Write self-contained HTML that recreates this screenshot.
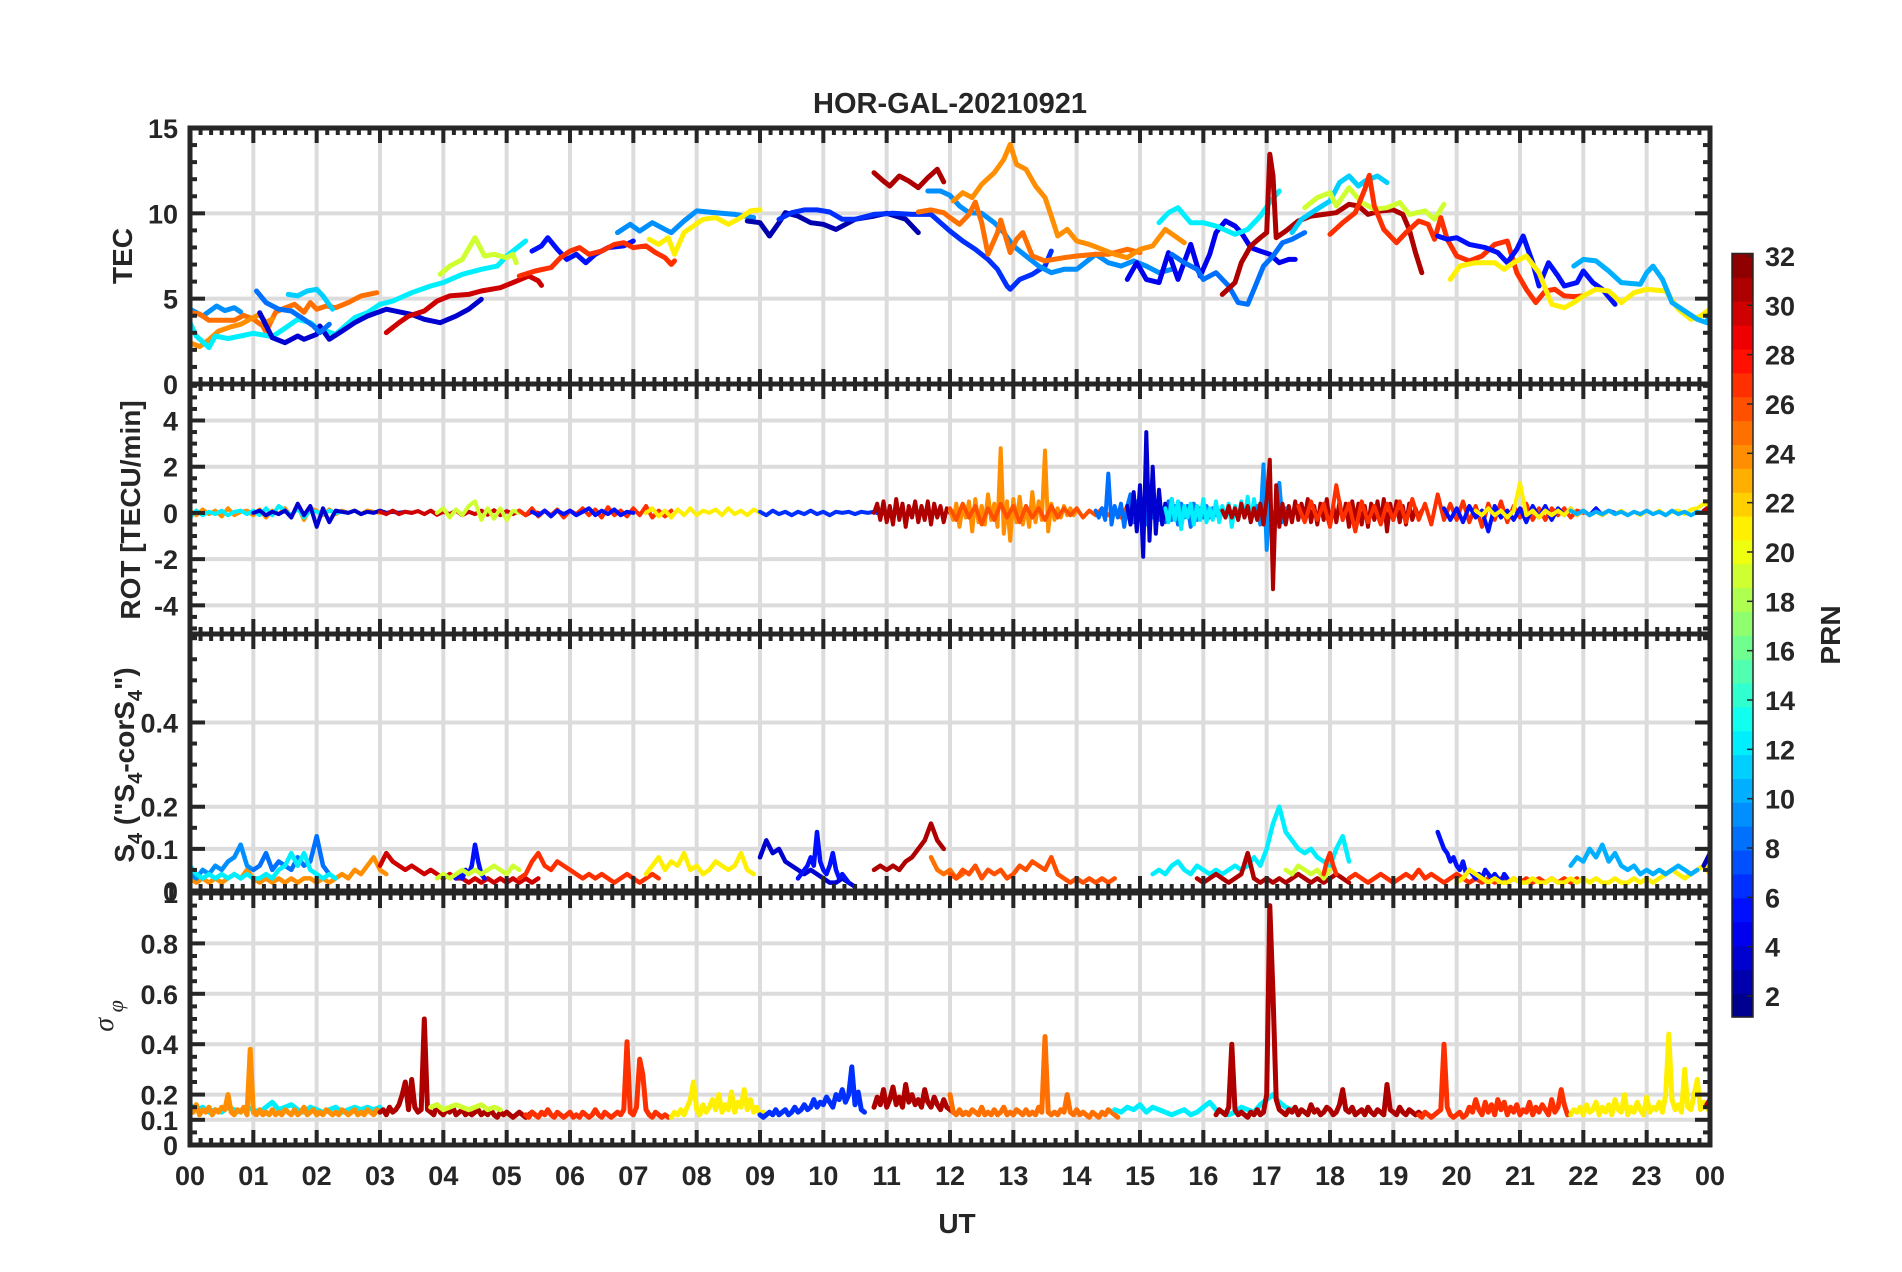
<!DOCTYPE html>
<html><head><meta charset="utf-8"><title>HOR-GAL-20210921</title>
<style>html,body{margin:0;padding:0;background:#fff;}svg{display:block;font-family:"Liberation Sans",Arial,sans-serif;}</style>
</head><body>
<svg id="chart" xmlns="http://www.w3.org/2000/svg" width="1902" height="1272" viewBox="0 0 1902 1272">
<rect x="0" y="0" width="1902" height="1272" fill="#ffffff"/>
<text x="950" y="113" text-anchor="middle" font-size="29" font-weight="bold" fill="#262626">HOR-GAL-20210921</text>
<text x="957" y="1233" text-anchor="middle" font-size="28" font-weight="bold" fill="#262626">UT</text>
<text transform="translate(132,256) rotate(-90)" text-anchor="middle" font-size="28" font-weight="bold" fill="#262626">TEC</text>
<text transform="translate(140,510) rotate(-90)" text-anchor="middle" font-size="28" font-weight="bold" fill="#262626">ROT [TECU/min]</text>
<text transform="translate(134,765) rotate(-90)" text-anchor="middle" font-size="28" font-weight="bold" fill="#262626">S<tspan font-size="20" dy="8">4</tspan><tspan dy="-8"> ("S</tspan><tspan font-size="20" dy="8">4</tspan><tspan dy="-8">-corS</tspan><tspan font-size="20" dy="8">4</tspan><tspan dy="-8">")</tspan></text>
<text transform="translate(113,1016) rotate(-90)" text-anchor="middle" font-size="28" font-style="italic" fill="#262626" font-family="'Liberation Serif',serif">σ<tspan font-size="22" dy="10"> φ</tspan></text>
<text transform="translate(1840,635) rotate(-90)" text-anchor="middle" font-size="28" font-weight="bold" fill="#262626">PRN</text>
</svg>
<script>
// ---------- axis geometry ----------
const X0 = 190, X1 = 1710;
// ---------- TEC data ----------
const tecPrn = [9,25,24,12,11,3,8,30,19,5,27,9,21,2,6,31,9,25,24,4,8,12,31,11,19,27,5,21,10];
const tecSeries = [
 [[0,4.38],[0.2,3.98],[0.42,4.57],[0.55,4.3],[0.7,4.47],[0.8,4.22]],
 [[0,4.18],[0.15,4.1],[0.3,3.73],[0.7,3.73],[0.85,4.02],[1.0,3.8],[1.15,3.4],[1.2,3.05],[1.35,4.2],[1.45,4.38],[1.65,4.67],[1.8,4.2],[1.9,4.77],[2.0,4.38],[2.15,4.57],[2.3,4.47],[2.5,4.77],[2.7,5.16],[2.95,5.35]],
 [[0,2.42],[0.15,2.19],[0.3,2.6],[0.45,3.1],[0.65,3.36],[0.8,3.5],[1.0,3.89],[1.1,4.08],[1.2,3.6],[1.3,3.8]],
 [[0,3.59],[0.1,2.81],[0.3,2.13],[0.4,2.81],[0.6,2.66],[0.8,2.81],[1.0,2.97],[1.3,2.77],[1.55,3.4],[1.7,3.79],[1.9,3.59],[2.0,3.3],[2.3,2.91],[2.6,3.89],[2.8,4.18],[3.0,4.67],[3.2,4.86],[3.5,5.35],[3.8,5.74],[4.0,5.94],[4.3,6.43],[4.6,6.72],[4.85,6.91],[5.0,7.5],[5.3,8.38]],
 [[1.55,5.25],[1.7,5.16],[1.85,5.45],[2.0,5.55],[2.1,5.16],[2.25,4.38]],
 [[1.1,4.18],[1.3,2.71],[1.5,2.42],[1.7,2.81],[1.8,2.62],[2.0,2.91],[2.05,3.4],[2.2,2.62],[2.4,3.1],[2.6,3.59],[2.8,3.98],[2.95,4.18],[3.1,4.38],[3.5,4.08],[3.7,3.79],[3.95,3.59],[4.2,3.98],[4.4,4.38],[4.6,4.96]],
 [[1.05,5.45],[1.2,4.77],[1.4,4.38],[1.6,4.28],[1.8,3.79],[1.95,3.4],[2.05,3.01],[2.2,3.5]],
 [[3.1,3.01],[3.3,3.59],[3.45,3.98],[3.7,4.28],[3.9,4.86],[4.1,5.16],[4.4,5.25],[4.6,5.45],[4.9,5.64],[5.1,5.94],[5.35,6.33],[5.5,6.04],[5.55,5.78]],
 [[3.95,6.43],[4.1,6.91],[4.3,7.3],[4.5,8.57],[4.65,7.5],[4.8,7.6],[5.0,7.4],[5.1,7.6],[5.15,7.11]],
 [[5.4,7.79],[5.55,8.09],[5.65,8.57],[5.8,7.89],[5.95,7.3],[6.1,7.6],[6.25,7.11],[6.4,7.6],[6.6,7.99],[6.85,8.09],[7.0,8.38]],
 [[5.2,6.33],[5.45,6.62],[5.7,6.82],[5.85,7.4],[6.0,7.79],[6.15,7.99],[6.3,7.6],[6.5,7.79],[6.7,8.18],[6.85,8.28],[7.0,7.99],[7.2,8.09],[7.35,7.7],[7.5,7.4],[7.6,7.01],[7.65,7.21]],
 [[6.75,8.87],[6.95,9.36],[7.1,8.96],[7.3,9.45],[7.5,9.06],[7.6,8.87],[7.8,9.55],[8.0,10.14],[8.3,10.04],[8.6,9.94],[8.9,9.75]],
 [[7.25,8.48],[7.4,8.18],[7.55,8.57],[7.65,7.6],[7.8,8.87],[7.95,9.26],[8.1,9.65],[8.3,9.75],[8.5,9.36],[8.7,9.75],[8.85,10.14],[9.0,10.2]],
 [[8.8,9.55],[9.0,9.45],[9.15,8.67],[9.3,9.45],[9.4,10.04],[9.6,9.84],[9.8,9.45],[10.0,9.36],[10.2,9.06],[10.5,9.65],[10.8,9.84],[11.0,10.0],[11.3,9.65],[11.5,8.87]],
 [[9.3,9.65],[9.5,10.04],[9.7,10.2],[9.9,10.2],[10.1,10.08],[10.3,9.65],[10.5,9.65],[10.8,9.94],[11.1,10.0],[11.4,9.94],[11.7,9.94],[11.85,9.45],[12.0,8.96],[12.2,8.38],[12.4,7.89],[12.6,7.3],[12.75,6.72],[12.9,5.74],[12.95,5.55],[13.1,6.13],[13.3,6.43],[13.5,6.91],[13.6,7.79]],
 [[10.8,12.38],[10.95,11.89],[11.05,11.6],[11.2,12.19],[11.35,11.89],[11.5,11.5],[11.65,12.09],[11.8,12.58],[11.9,11.84]],
 [[11.65,11.31],[11.85,11.31],[12.0,11.05],[12.15,10.43],[12.3,10.04],[12.5,10.0],[12.7,9.45],[12.85,8.87],[13.0,8.09],[13.2,7.5],[13.4,6.91],[13.6,6.52],[13.8,6.72],[14.0,6.72],[14.2,7.3],[14.3,7.6],[14.5,7.11],[14.7,6.91],[14.9,7.21],[15.1,6.91],[15.3,6.52],[15.5,6.72]],
 [[11.5,10.08],[11.7,10.2],[11.9,10.04],[12.0,9.75],[12.15,9.36],[12.3,9.94],[12.4,10.66],[12.5,9.45],[12.6,7.6],[12.75,8.87],[12.8,9.61],[12.95,7.7],[13.05,8.48],[13.15,8.87],[13.3,7.5],[13.5,7.21],[13.8,7.4],[14.0,7.5],[14.3,7.6],[14.5,7.6],[14.8,7.89],[15.0,7.7]],
 [[12.05,10.72],[12.2,11.21],[12.35,10.92],[12.5,11.7],[12.7,12.38],[12.85,13.16],[12.95,14.04],[13.05,12.87],[13.2,12.58],[13.35,11.6],[13.5,10.92],[13.6,9.84],[13.7,8.67],[13.85,9.06],[14.0,8.38],[14.2,8.18],[14.4,7.89],[14.6,7.6],[14.8,7.4],[15.0,7.89],[15.2,8.09],[15.4,9.06],[15.55,8.67],[15.7,8.28]],
 [[14.8,6.13],[14.95,7.11],[15.1,6.13],[15.3,5.94],[15.45,7.7],[15.6,6.13],[15.8,8.18],[15.95,6.33],[16.1,7.6],[16.2,8.87],[16.35,9.55],[16.5,9.26],[16.6,8.87],[16.75,7.99],[16.9,7.79],[17.05,7.6],[17.2,7.11],[17.35,7.3],[17.45,7.3]],
 [[15.5,7.6],[15.7,7.11],[15.9,6.72],[16.0,6.13],[16.2,6.52],[16.4,5.74],[16.55,4.77],[16.7,4.67],[16.8,5.55],[16.95,6.91],[17.1,7.5],[17.25,8.28],[17.4,8.48],[17.6,8.87]],
 [[15.3,9.45],[15.45,10.04],[15.6,10.33],[15.8,9.45],[16.0,9.45],[16.2,9.26],[16.5,8.77],[16.7,9.06],[16.9,9.84],[17.05,10.63],[17.2,11.31]],
 [[16.3,5.25],[16.5,5.94],[16.6,7.11],[16.75,8.09],[16.9,8.57],[17.0,8.87],[17.05,13.46],[17.1,12.19],[17.15,8.57],[17.3,8.96],[17.5,9.55],[17.7,9.84],[17.9,9.94],[18.1,10.04],[18.3,10.53],[18.45,10.43],[18.6,9.94],[18.8,10.14],[19.0,10.2],[19.15,9.94],[19.25,9.06],[19.35,7.7],[19.45,6.52]],
 [[17.4,8.87],[17.55,9.65],[17.75,10.14],[18.0,10.72],[18.15,11.8],[18.3,12.19],[18.45,11.6],[18.55,11.89],[18.75,12.19],[18.9,11.8]],
 [[17.6,10.33],[17.8,10.92],[18.0,11.21],[18.1,10.43],[18.3,11.5],[18.5,10.63],[18.7,10.24],[18.9,10.33],[19.1,10.63],[19.25,9.94],[19.5,10.14],[19.65,9.65],[19.8,10.53]],
 [[18.0,8.77],[18.2,9.45],[18.4,10.04],[18.55,11.41],[18.62,12.23],[18.7,10.43],[18.85,9.06],[19.05,8.28],[19.2,8.87],[19.4,9.55],[19.55,9.36],[19.65,8.48],[19.75,9.75],[19.85,8.48],[20.0,7.5],[20.2,7.21],[20.4,7.5],[20.6,8.18],[20.8,8.38],[20.95,6.52],[21.1,5.55],[21.25,4.77],[21.4,5.45],[21.55,5.55],[21.7,5.16],[21.85,5.12],[22.0,5.16]],
 [[19.7,8.67],[19.85,8.48],[20.0,8.57],[20.2,8.18],[20.45,7.99],[20.65,7.7],[20.8,7.11],[20.95,7.89],[21.05,8.67],[21.2,7.11],[21.3,5.74],[21.45,7.11],[21.6,6.33],[21.7,5.74],[21.9,5.94],[22.0,6.62],[22.15,5.94],[22.3,5.55],[22.5,4.67]],
 [[19.9,6.13],[20.05,6.91],[20.3,7.11],[20.6,7.11],[20.75,6.72],[20.9,7.11],[21.1,7.5],[21.3,6.52],[21.5,4.67],[21.7,4.47],[21.85,4.77],[22.0,5.16],[22.2,5.55],[22.4,5.45],[22.6,4.77],[22.8,5.35],[23.0,5.55],[23.3,5.45],[23.5,4.38],[23.7,3.79],[23.85,3.98],[24.0,4.38],[24.05,5.16]],
 [[21.85,6.91],[22.0,7.3],[22.2,7.21],[22.4,6.62],[22.6,5.94],[22.9,5.84],[23.0,6.52],[23.1,6.91],[23.25,6.13],[23.4,4.77],[23.6,4.28],[23.8,3.79],[23.95,3.59],[24.0,4.18]]
];
// ---------- ROT data (start hour, step hours, values TECU/min) ----------
const rotPrn   = [24,12,3,30,19,27,5,21,6,31,24,26,8,3,12,9,31,27,5,21,10,31];
const rotStart = [0,0,1.0,3.0,3.9,5.2,5.4,7.2,9.0,10.8,12.0,12.0,14.3,14.8,15.4,16.85,16.3,17.5,19.8,20.3,21.8,23.9];
const rotStep  = [0.1,0.1,0.1,0.1,0.1,0.1,0.1,0.1,0.1,0.05,0.05,0.1,0.05,0.05,0.05,0.05,0.05,0.1,0.1,0.1,0.1,0.05];
const rotValues = [
 [0.1,-0.1,0.15,-0.05,0.1,-0.15,0.2,-0.1,0.05,0.1,-0.1,0.15,-0.2,0.1,-0.05,0.2,-0.15,0.3,-0.3,0.2,0.1,-0.1,0.15,-0.05,0.1,0,0.1,-0.05,0.1,0.05,0],
 [-0.2,0.1,-0.1,0.05,-0.05,0.1,-0.1,0.05,0.1,-0.05,0.1,-0.1,0.2,-0.1,0.3,0.1,-0.1,0.2,-0.2,0.1,0.05,-0.05,0.1,0,0.05,0],
 [0,0.1,-0.1,0.05,-0.05,0.1,-0.2,0.4,-0.1,0.3,-0.6,0.2,-0.4,0.1,0.05,0,0.1,-0.05,0.05,0,0.1,0,0.05,0,0.05,0],
 [0.05,-0.05,0.1,-0.05,0.05,0,0.08,-0.05,0.1,-0.08,0.05,-0.05,0.1,-0.1,0.05,-0.05,0.1,-0.08,0.12,-0.1,0.08,-0.05,0.1,-0.1,0.05,0],
 [0,0.2,-0.2,0.15,-0.1,0.3,0.5,-0.3,0.2,-0.25,0.2,-0.3,0.1,0],
 [0.1,-0.1,0.2,-0.15,0.1,-0.1,0.15,-0.2,0.1,-0.05,0.2,-0.1,0.15,-0.2,0.25,-0.1,0.1,-0.15,0.2,-0.1,0.3,-0.2,0.1,-0.15,0.1],
 [0.05,-0.1,0.1,-0.15,0.1,-0.05,0.1,-0.1,0.05,0.2,-0.1,0.1,-0.05,0.15,-0.1,0.05,0],
 [0,0.2,-0.15,0.1,-0.2,0.15,-0.1,0.2,-0.1,0.1,0,0.15,-0.1,0.2,-0.05,0.1,-0.1,0.15,0],
 [0.05,-0.1,0.1,-0.05,0.05,-0.1,0.05,-0.05,0.1,-0.05,0.05,-0.1,0.05,0,0.05,-0.05,0.05,0,0.05,-0.05,0],
 [0,0.4,-0.3,0.5,-0.4,0.3,-0.5,0.6,-0.3,0.4,-0.6,0.3,-0.2,0.5,-0.4,0.3,-0.3,0.5,-0.5,0.4,-0.2,0.3,-0.4,0.2,0],
 [0.1,-0.3,0.4,-0.6,0.3,-0.2,0.5,-0.8,0.6,-0.4,0.3,-0.5,0.8,-0.3,0.4,-0.6,2.8,-0.9,0.5,-1.2,0.6,-0.4,0.7,-0.5,0.3,-0.6,0.9,-0.4,0.5,-0.3,2.7,-0.8,0.4,-0.3,0.2,-0.2,0.3,-0.1,0.2,-0.1,0.1],
 [0.2,-0.3,0.4,-0.2,0.3,-0.5,0.2,-0.3,0.4,-0.2,0.3,-0.4,0.3,-0.2,0.2,-0.3,0.3,-0.2,0.2,-0.1,0.2,-0.2,0.1,-0.1,0.2,-0.1,0.1,-0.2,0.3,-0.2,0.1],
 [0.1,-0.2,0.2,-0.3,1.7,-0.5,0.3,-0.2,0.4,-0.6,0.3,0.8,-0.4,0.5,-0.3,0.6,-0.5,0.3,-0.2,0.4,-0.3,0.2,-0.4,0.5,-0.3,0.3,-0.5,0.4,-0.2,0.3,-0.6,0.4,-0.3,0.2,-0.2,0.3,-0.2,0.2,-0.1,0.1],
 [0.3,-0.5,0.9,-0.8,1.2,-1.9,3.5,-1.2,2.0,-0.9,1.0,-0.5,0.4,-0.3,0.6,-0.2,0.1],
 [0.2,-0.4,0.6,-0.3,0.5,-0.7,0.3,-0.2,0.4,-0.5,0.3,-0.3,0.6,-0.4,0.2,-0.3,0.5,-0.4,0.3,-0.2,0.4,-0.6,0.3,-0.3,0.5,-0.2,0.7,-0.4,0.6,-0.3,0.4,-0.2,0.3],
 [0.3,-0.5,2.1,-1.6,0.8,-0.9,0.5,1.3,-0.4,0.2],
 [0.1,-0.2,0.3,-0.2,0.2,-0.3,0.4,-0.2,0.3,-0.4,0.2,-0.3,0.4,-0.5,0.6,2.3,-3.3,1.2,-0.6,0.4,-0.5,0.3,-0.4,0.5,-0.3,0.4,-0.2,0.6,-0.4,0.3,-0.5,0.4,-0.3,0.6,-0.5,0.3,-0.4,0.5,-0.3,0.4,-0.6,0.5,-0.3,0.4,-0.5,0.3,-0.6,0.4,-0.3,0.5,-0.4,0.6,-0.8,0.4,-0.3,0.5,-0.4,0.3,-0.5,0.4,-0.3,0.2,-0.2,0.1],
 [0.3,-0.4,0.5,-0.3,0.4,-0.6,1.2,-0.3,0.4,-0.8,0.5,-0.4,0.3,-0.5,0.4,-0.3,0.5,-0.4,0.6,-0.3,0.4,-0.5,0.8,-0.3,0.4,-0.3,0.5,-0.4,0.3,-0.6,0.4,-0.3,0.5,-0.4,0.3,-0.2,0.4,-0.3,0.2,-0.3,0.2,-0.1,0.2,-0.2,0.1,0],
 [0.2,-0.3,0.2,-0.4,0.3,-0.2,0.1,-0.8,0.3,-0.2,0.1,-0.3,0.2,-0.4,0.3,-0.2,0.3,-0.3,0.2,-0.1,0.2,-0.1,0.1,-0.1,0.2,-0.1,0.1,0],
 [0.1,-0.1,0.2,-0.1,0.1,-0.2,0.1,1.3,-0.1,0.1,-0.2,0.1,-0.1,0.1,-0.1,0.2,-0.1,0.1,-0.1,0.05,-0.1,0.1,-0.05,0.1,-0.1,0.05,-0.1,0.1,-0.05,0.1,-0.1,0.05,0.1,-0.05,0.15,0.2,0.4,0.3],
 [0.1,-0.05,0.1,-0.1,0.05,-0.05,0.1,-0.05,0.05,-0.1,0.05,-0.05,0.1,-0.05,0.05,-0.1,0.1,-0.05,0.05,-0.1,0.05,0],
 [0.1,0.2,0.1]
];
// ---------- S4 data ----------
const s4Prn   = [24,9,8,12,30,5,19,27,21,3,5,31,25,26,12,31,19,27,27,5,21,10,2];
const s4Start = [0,0,1.0,0,3.0,4.2,3.9,5.2,7.2,9.0,9.6,10.8,11.7,12.0,15.2,15.9,17.3,17.9,18.3,19.7,20.0,21.8,23.9];
const s4Step  = [0.1,0.1,0.1,0.1,0.1,0.05,0.1,0.1,0.1,0.1,0.05,0.1,0.1,0.1,0.1,0.1,0.1,0.05,0.1,0.05,0.1,0.1,0.1];
const s4Values = [
 [0.03,0.02,0.03,0.02,0.03,0.02,0.03,0.04,0.03,0.05,0.03,0.02,0.03,0.02,0.03,0.02,0.03,0.02,0.03,0.03,0.02,0.03,0.02,0.03,0.04,0.03,0.05,0.04,0.06,0.08,0.05,0.04],
 [0.04,0.03,0.05,0.04,0.06,0.05,0.07,0.08,0.11,0.06,0.05],
 [0.05,0.06,0.09,0.05,0.07,0.06,0.05,0.08,0.06,0.07,0.13,0.06,0.04],
 [0.06,0.04,0.03,0.04,0.03,0.04,0.03,0.04,0.03,0.04,0.03,0.03,0.04,0.03,0.05,0.06,0.09,0.06,0.09,0.05,0.04,0.03,0.04,0.03],
 [0.06,0.09,0.07,0.06,0.05,0.06,0.05,0.04,0.05,0.04,0.03,0.04,0.03,0.03,0.02,0.03,0.02,0.03,0.02,0.03,0.02,0.03,0.02,0.03,0.02,0.03],
 [0.03,0.04,0.03,0.05,0.04,0.06,0.11,0.07,0.04,0.03],
 [0.03,0.04,0.03,0.04,0.05,0.04,0.05,0.04,0.05,0.06,0.05,0.04,0.06,0.05],
 [0.03,0.04,0.07,0.09,0.06,0.05,0.07,0.06,0.05,0.04,0.03,0.04,0.03,0.04,0.03,0.02,0.03,0.04,0.03,0.02,0.03,0.04,0.03],
 [0.04,0.06,0.08,0.05,0.07,0.06,0.09,0.05,0.06,0.04,0.05,0.07,0.06,0.05,0.06,0.09,0.05,0.04],
 [0.08,0.12,0.09,0.1,0.07,0.06,0.05,0.04,0.05,0.04,0.03,0.02,0.02,0.03,0.02,0.01],
 [0.03,0.04,0.05,0.06,0.08,0.06,0.14,0.07,0.05,0.04,0.06,0.09,0.05,0.03,0.04,0.03,0.02],
 [0.05,0.06,0.05,0.06,0.05,0.07,0.08,0.1,0.12,0.16,0.12,0.1],
 [0.08,0.05,0.04,0.05,0.03,0.04],
 [0.04,0.03,0.05,0.04,0.06,0.03,0.05,0.04,0.05,0.03,0.04,0.06,0.05,0.07,0.06,0.05,0.08,0.04,0.03,0.02,0.03,0.02,0.03,0.02,0.03,0.02,0.03],
 [0.04,0.05,0.04,0.06,0.07,0.05,0.04,0.06,0.05,0.04,0.05,0.04,0.05,0.06,0.05,0.06,0.08,0.06,0.1,0.16,0.2,0.14,0.12,0.1,0.09,0.1,0.08,0.07,0.06,0.1,0.13,0.07],
 [0.03,0.02,0.03,0.04,0.03,0.02,0.03,0.04,0.09,0.03,0.02,0.03,0.02,0.03,0.02,0.03,0.04,0.03,0.02,0.03,0.02,0.03,0.04,0.03,0.02],
 [0.05,0.04,0.06,0.05,0.04,0.05,0.03,0.05],
 [0.04,0.07,0.09,0.06,0.04],
 [0.03,0.04,0.03,0.02,0.03,0.04,0.03,0.02,0.03,0.04,0.03,0.05,0.03,0.04,0.03,0.02,0.03,0.04,0.03,0.02,0.03,0.02,0.03,0.02,0.03,0.02,0.03,0.02,0.03,0.02,0.03,0.02,0.03,0.02,0.03,0.02,0.03],
 [0.14,0.12,0.1,0.09,0.07,0.08,0.06,0.05,0.07,0.04,0.05,0.04,0.03,0.04,0.03,0.05,0.04,0.03,0.04,0.03,0.02,0.04,0.03],
 [0.02,0.03,0.05,0.04,0.03,0.02,0.03,0.02,0.02,0.03,0.02,0.02,0.03,0.02,0.02,0.03,0.02,0.02,0.03,0.02,0.03,0.02,0.03,0.02,0.02,0.03,0.02,0.02,0.03,0.02,0.03,0.02,0.03,0.04,0.05,0.04,0.03,0.04,0.05,0.06,0.04],
 [0.06,0.08,0.07,0.1,0.08,0.11,0.07,0.09,0.06,0.05,0.06,0.04,0.05,0.04,0.05,0.04,0.05,0.06,0.05,0.04,0.05],
 [0.06,0.09]
];
// ---------- sigma-phi data ----------
const sigPrn   = [12,24,31,19,27,21,6,31,25,12,31,27,21,31];
const sigStart = [0,0,3.0,3.8,5.3,7.6,9.0,10.8,12.0,14.6,16.2,19.4,21.8,23.95];
const sigStep  = [0.1,0.05,0.05,0.1,0.05,0.05,0.05,0.05,0.05,0.1,0.05,0.05,0.05,0.05];
const sigValues = [
 [0.16,0.14,0.15,0.13,0.14,0.13,0.15,0.14,0.13,0.15,0.14,0.13,0.15,0.17,0.14,0.15,0.16,0.14,0.13,0.15,0.14,0.13,0.14,0.15,0.13,0.14,0.15,0.14,0.15,0.14,0.15],
 [0.15,0.13,0.16,0.12,0.14,0.13,0.15,0.12,0.14,0.13,0.15,0.14,0.2,0.13,0.12,0.14,0.13,0.15,0.12,0.38,0.13,0.12,0.14,0.12,0.13,0.12,0.14,0.12,0.13,0.12,0.14,0.13,0.12,0.14,0.12,0.13,0.15,0.12,0.13,0.14,0.12,0.13,0.12,0.14,0.13,0.12,0.13,0.12,0.14,0.13,0.12,0.13,0.14,0.12,0.13,0.12,0.14,0.13,0.12,0.14],
 [0.13,0.14,0.12,0.15,0.13,0.14,0.16,0.2,0.25,0.14,0.26,0.15,0.13,0.14,0.5,0.14,0.13,0.12,0.16,0.13,0.12,0.14,0.13,0.15,0.12,0.13,0.14,0.12,0.13,0.12,0.13,0.14,0.12,0.13,0.12,0.14,0.12,0.11,0.13,0.12,0.13,0.12,0.11,0.12,0.13,0.12,0.11,0.12,0.13,0.12],
 [0.15,0.16,0.14,0.15,0.16,0.15,0.14,0.15,0.16,0.14,0.15,0.14],
 [0.12,0.11,0.13,0.12,0.11,0.13,0.12,0.14,0.12,0.11,0.13,0.12,0.11,0.12,0.13,0.11,0.12,0.11,0.13,0.12,0.11,0.12,0.14,0.12,0.11,0.13,0.12,0.11,0.12,0.13,0.12,0.14,0.41,0.13,0.12,0.15,0.34,0.28,0.14,0.12,0.11,0.13,0.12,0.11,0.12,0.11],
 [0.11,0.13,0.12,0.14,0.12,0.15,0.18,0.25,0.14,0.12,0.16,0.13,0.15,0.18,0.14,0.2,0.13,0.16,0.14,0.21,0.13,0.17,0.15,0.22,0.14,0.18,0.13,0.15,0.12,0.13],
 [0.12,0.11,0.12,0.13,0.12,0.14,0.12,0.13,0.14,0.12,0.13,0.15,0.13,0.14,0.16,0.14,0.15,0.18,0.15,0.17,0.16,0.19,0.17,0.15,0.2,0.18,0.22,0.17,0.2,0.31,0.16,0.21,0.14,0.13],
 [0.15,0.19,0.16,0.22,0.15,0.18,0.23,0.16,0.19,0.15,0.24,0.17,0.2,0.16,0.18,0.15,0.22,0.17,0.15,0.19,0.16,0.14,0.18,0.15,0.14,0.13],
 [0.2,0.13,0.12,0.14,0.12,0.13,0.12,0.14,0.13,0.12,0.15,0.12,0.13,0.12,0.14,0.12,0.13,0.15,0.12,0.13,0.12,0.14,0.13,0.12,0.14,0.12,0.13,0.12,0.15,0.13,0.43,0.13,0.12,0.13,0.12,0.14,0.13,0.2,0.13,0.12,0.14,0.12,0.13,0.12,0.11,0.13,0.12,0.11,0.13,0.12,0.14,0.13,0.12,0.11],
 [0.14,0.13,0.15,0.14,0.16,0.13,0.15,0.14,0.13,0.12,0.13,0.14,0.12,0.13,0.15,0.17,0.14,0.13,0.12,0.13,0.15,0.14,0.13,0.16,0.18,0.2,0.17,0.15,0.14],
 [0.12,0.14,0.13,0.12,0.15,0.4,0.14,0.12,0.13,0.12,0.11,0.13,0.12,0.14,0.12,0.13,0.2,0.95,0.6,0.18,0.14,0.13,0.12,0.14,0.13,0.15,0.12,0.14,0.13,0.12,0.16,0.13,0.14,0.12,0.13,0.15,0.14,0.12,0.13,0.16,0.22,0.14,0.13,0.15,0.12,0.13,0.14,0.12,0.15,0.13,0.12,0.14,0.13,0.12,0.24,0.14,0.13,0.12,0.15,0.13,0.12,0.14,0.13,0.12,0.13,0.12],
 [0.12,0.11,0.13,0.12,0.11,0.12,0.13,0.14,0.4,0.15,0.12,0.11,0.12,0.13,0.11,0.12,0.15,0.13,0.18,0.14,0.12,0.17,0.13,0.16,0.12,0.18,0.14,0.17,0.12,0.15,0.13,0.16,0.12,0.14,0.13,0.17,0.12,0.15,0.13,0.16,0.14,0.12,0.18,0.13,0.15,0.22,0.16,0.12],
 [0.12,0.14,0.13,0.15,0.12,0.16,0.13,0.14,0.17,0.12,0.15,0.13,0.16,0.12,0.18,0.14,0.13,0.2,0.12,0.15,0.13,0.17,0.14,0.12,0.19,0.13,0.15,0.14,0.17,0.13,0.2,0.44,0.18,0.14,0.16,0.13,0.3,0.15,0.14,0.2,0.26,0.14,0.17,0.15,0.13],
 [0.16,0.18]
];
// ---------- tick labels ----------
const xTickLabels = ["00","01","02","03","04","05","06","07","08","09","10","11","12","13","14","15","16","17","18","19","20","21","22","23","00"];
const tecTicks = [0,5,10,15];
const rotTicks = [-4,-2,0,2,4];
const s4Ticks = [0,0.1,0.2,0.4];
const sigTicks = [0,0.1,0.2,0.4,0.6,0.8,1];
const cbTicks = [2,4,6,8,10,12,14,16,18,20,22,24,26,28,30,32];

const NS = "http://www.w3.org/2000/svg";
const svg = document.getElementById("chart");
function mk(tag, attrs, parent) {
  const e = document.createElementNS(NS, tag);
  for (const k in attrs) e.setAttribute(k, attrs[k]);
  (parent || svg).appendChild(e);
  return e;
}
function jet(prn) {
  const x = (prn - 0.5) / 32;
  const c = v => Math.round(255 * Math.max(0, Math.min(1, v)));
  return "rgb(" + c(1.5 - Math.abs(4 * x - 3)) + "," + c(1.5 - Math.abs(4 * x - 2)) + "," + c(1.5 - Math.abs(4 * x - 1)) + ")";
}
const xScale = h => X0 + (X1 - X0) * h / 24;

const panels = [
  {id: "tec", top: 128, bot: 384, lo: 0, hi: 15, ticks: tecTicks, grid: [5,10], minor: 1, fmt: v => String(v)},
  {id: "rot", top: 384, bot: 634, lo: -5.24, hi: 5.58, ticks: rotTicks, grid: [-4,-2,2,4], minor: 0.5, fmt: v => String(v)},
  {id: "s4", top: 634, bot: 891, lo: 0, hi: 0.61, ticks: s4Ticks, grid: [0.1,0.2,0.4], minor: 0.05, fmt: v => String(v)},
  {id: "sigma", top: 893, bot: 1145, lo: 0, hi: 1.0, ticks: sigTicks, grid: [0.1,0.2,0.4,0.6,0.8], minor: 0.05, fmt: v => String(v)}
];
panels.forEach(p => { p.y = v => p.bot - (v - p.lo) * (p.bot - p.top) / (p.hi - p.lo); });

const defs = mk("defs", {});
panels.forEach(p => {
  const cp = mk("clipPath", {id: "clip-" + p.id}, defs);
  mk("rect", {x: X0, y: p.top, width: X1 - X0, height: p.bot - p.top}, cp);
});

// grid
panels.forEach(p => {
  const g = mk("g", {});
  
  
  for (let h = 1; h < 24; h++) {
    const l = mk("line", {x1: xScale(h), x2: xScale(h), y1: p.top, y2: p.bot, stroke: "#dcdcdc", "stroke-width": 4}, g);
    
    
  }
  p.grid.forEach(v => {
    const l = mk("line", {x1: X0, x2: X1, y1: p.y(v), y2: p.y(v), stroke: "#dcdcdc", "stroke-width": 4}, g);
    
    
  });
});

// data
function drawPoints(p, prn, pts, sw, name) {
  const d = pts.map((q, i) => (i ? "L" : "M") + xScale(q[0]).toFixed(1) + " " + p.y(q[1]).toFixed(1)).join("");
  const path = mk("path", {d: d, fill: "none", stroke: jet(prn), "stroke-width": sw, "stroke-linejoin": "round", "stroke-linecap": "round", "clip-path": "url(#clip-" + p.id + ")"});
  
  
}
tecSeries.forEach((pts, i) => drawPoints(panels[0], tecPrn[i], pts, 5, 'tec-line-prn' + tecPrn[i]));
function drawStepped(p, prns, starts, steps, vals, sw, pfx) {
  vals.forEach((arr, i) => {
    const pts = arr.map((v, k) => [starts[i] + k * steps[i], v]);
    drawPoints(p, prns[i], pts, sw, pfx + '-line-prn' + prns[i]);
  });
}
drawStepped(panels[1], rotPrn, rotStart, rotStep, rotValues, 4, 'rot');
drawStepped(panels[2], s4Prn, s4Start, s4Step, s4Values, 4.5, 's4');
drawStepped(panels[3], sigPrn, sigStart, sigStep, sigValues, 5, 'sigma');

// axes boxes and ticks
const AX = "#262626";
panels.forEach((p, pi) => {
  const g = mk("g", {});
  
  
  for (let m = 0; m <= 144; m++) {
    const x = xScale(m / 6), major = m % 6 === 0, len = major ? 15 : 7;
    mk("line", {x1: x, x2: x, y1: p.top, y2: p.top + len, stroke: AX, "stroke-width": 4}, g);
    mk("line", {x1: x, x2: x, y1: p.bot, y2: p.bot - len, stroke: AX, "stroke-width": 4}, g);
  }
  const nMin = Math.round((p.hi - p.lo) / p.minor) + 2;
  const startV = Math.ceil(p.lo / p.minor) * p.minor;
  for (let k = 0; k < nMin; k++) {
    const v = startV + k * p.minor;
    if (v > p.hi + 1e-9) break;
    const major = p.ticks.some(t => Math.abs(t - v) < 1e-6), len = major ? 15 : 7, y = p.y(v);
    mk("line", {x1: X0, x2: X0 + len, y1: y, y2: y, stroke: AX, "stroke-width": 4}, g);
    mk("line", {x1: X1, x2: X1 - len, y1: y, y2: y, stroke: AX, "stroke-width": 4}, g);
  }
  const box = mk("rect", {x: X0, y: p.top, width: X1 - X0, height: p.bot - p.top, fill: "none", stroke: AX, "stroke-width": 5}, g);
  
  
  p.ticks.forEach(v => {
    const t = mk("text", {x: 178, y: p.y(v) + 10, "text-anchor": "end", "font-size": 27, "font-weight": "bold", fill: AX}, g);
    t.textContent = p.fmt(v);
    
    
  });
});
// x tick labels
xTickLabels.forEach((s, i) => {
  const t = mk("text", {x: xScale(i), y: 1185, "text-anchor": "middle", "font-size": 27, "font-weight": "bold", fill: AX});
  t.textContent = s;
  
  
});

// colorbar
const CB_X = 1732, CB_W = 21, CB_TOP = 253.5, CB_BOT = 1017, CB_LO = 1.15, CB_HI = 32.1;
const cbY = v => CB_BOT - (v - CB_LO) * (CB_BOT - CB_TOP) / (CB_HI - CB_LO);
const cb = mk("g", {});


for (let i = 1; i <= 32; i++) {
  const y0 = CB_BOT - (i - 1) * (CB_BOT - CB_TOP) / 32, y1 = CB_BOT - i * (CB_BOT - CB_TOP) / 32;
  const r = mk("rect", {x: CB_X, y: y1, width: CB_W, height: y0 - y1 + 0.6, fill: jet(i)}, cb);
  
  
}
mk("rect", {x: CB_X, y: CB_TOP, width: CB_W, height: CB_BOT - CB_TOP, fill: "none", stroke: AX, "stroke-width": 1.5}, cb);
cbTicks.forEach(v => {
  const y = cbY(v);
  mk("line", {x1: CB_X + CB_W, x2: CB_X + CB_W - 6, y1: y, y2: y, stroke: AX, "stroke-width": 1.5}, cb);
  const t = mk("text", {x: 1765, y: y + 10, "font-size": 27, "font-weight": "bold", fill: AX}, cb);
  t.textContent = String(v);
  
  
});
</script>
</body></html>
